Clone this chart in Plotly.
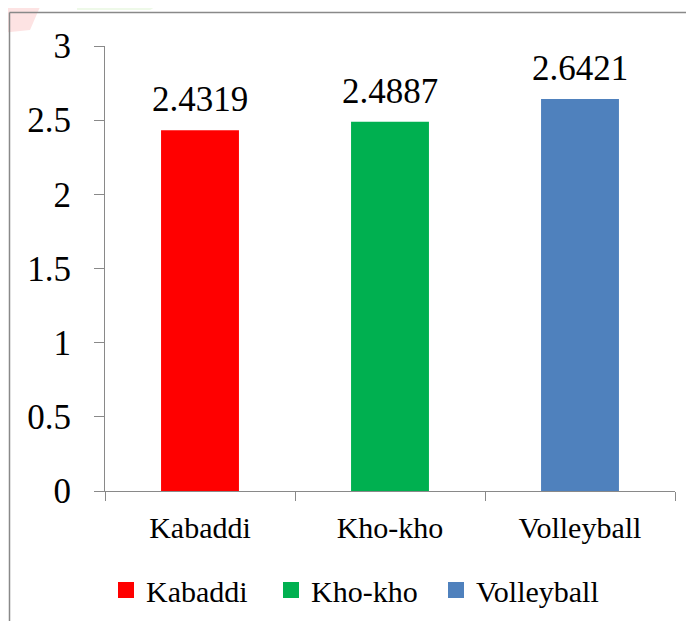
import plotly.graph_objects as go

categories = ["Kabaddi", "Kho-kho", "Volleyball"]
values = [2.4319, 2.4887, 2.6421]
colors = ["#FF0000", "#00B050", "#4F81BD"]
y_tick_vals = [0, 0.5, 1, 1.5, 2, 2.5, 3]
y_tick_text = ["0", "0.5", "1", "1.5", "2", "2.5", "3"]

OFF = 8  # page body margin
EXTRA = 40  # room below the visible window so the legend never pushes the margins
W, H = 694 - OFF, 621 - OFF + EXTRA
ML, MR, MT, MB = 105 - OFF, 19, 46 - OFF, 130 + EXTRA
PW = W - ML - MR
PH = H - MT - MB


def px_x(px):
    return (px - OFF - ML) / PW


def px_y(py):
    return (H - MB - (py - OFF)) / PH


FONT = "Liberation Serif"
AXC = "#898989"

fig = go.Figure()
for c, v, col in zip(categories, values, colors):
    fig.add_trace(go.Bar(x=[c], y=[v], marker=dict(color=col, line=dict(width=0)),
                         showlegend=False, hoverinfo="skip"))
    fig.add_annotation(x=c, y=v, text=f"{v:.4f}", showarrow=False, yanchor="bottom",
                       yshift=9, font=dict(family=FONT, size=35, color="black"))
    # legend entry
    fig.add_trace(go.Scatter(x=[None], y=[None], mode="markers", name=c,
                             marker=dict(symbol="square", size=17, color=col)))

fig.update_layout(
    width=W, height=H,
    margin=dict(l=ML, r=MR, t=MT, b=MB, autoexpand=False),
    paper_bgcolor="white", plot_bgcolor="white",
    bargap=0.59,
    font=dict(family=FONT, color="black"),
    showlegend=True,
    legend=dict(orientation="h", x=px_x(106), xanchor="left", y=px_y(590), yanchor="middle",
                font=dict(family=FONT, size=30, color="black"), itemwidth=30,
                entrywidth=120, entrywidthmode="pixels",
                bgcolor="rgba(0,0,0,0)"),
    xaxis=dict(type="category", showline=True, linecolor=AXC, linewidth=1,
               ticks="outside", tickson="boundaries", ticklen=9, tickcolor=AXC,
               tickfont=dict(family=FONT, size=30, color="black"), showgrid=False,
               zeroline=False, ticklabelstandoff=10),
    yaxis=dict(range=[0, 3], showline=True, linecolor=AXC, linewidth=1,
               ticks="outside", ticklen=10, tickcolor=AXC, tickvals=y_tick_vals,
               ticktext=y_tick_text, tickfont=dict(family=FONT, size=35, color="black"),
               showgrid=False, zeroline=False, ticklabelstandoff=16),
)

# faint watermark shapes at top
fig.add_shape(type="path", xref="paper", yref="paper",
              path=f"M {px_x(0)},{px_y(0)} L {px_x(43)},{px_y(0)} L {px_x(30)},{px_y(30)} L {px_x(0)},{px_y(33)} Z",
              fillcolor="#fde3e3", line=dict(width=0), layer="below")
fig.add_shape(type="path", xref="paper", yref="paper",
              path=f"M {px_x(77)},{px_y(0)} L {px_x(167)},{px_y(0)} L {px_x(150)},{px_y(10)} L {px_x(77)},{px_y(10)} Z",
              fillcolor="#eef9e8", line=dict(width=0), layer="below")
# outer border (top and left)
fig.add_shape(type="line", xref="paper", yref="paper",
              x0=px_x(9.5), y0=px_y(12.5), x1=px_x(700), y1=px_y(12.5),
              line=dict(color=AXC, width=1.5))
fig.add_shape(type="line", xref="paper", yref="paper",
              x0=px_x(9.5), y0=px_y(12.5), x1=px_x(9.5), y1=px_y(660),
              line=dict(color=AXC, width=1.5))

fig.write_html("out.html")
